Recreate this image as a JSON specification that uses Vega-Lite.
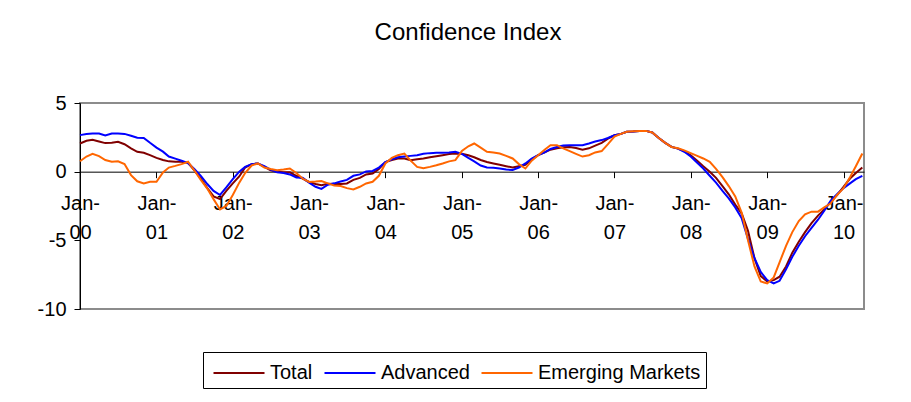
{
  "$schema": "https://vega.github.io/schema/vega-lite/v6.json",
  "width": 784,
  "height": 206,
  "autosize": {"type": "none"},
  "padding": {"left": 80, "top": 103, "right": 47, "bottom": 93},
  "background": "white",
  "title": {"text": "Confidence Index", "font": "Liberation Sans", "fontSize": 24, "fontWeight": "normal", "color": "black", "anchor": "middle", "baseline": "alphabetic", "offset": 29, "dx": -4},
  "data": {"values": [
    {"date": "2000-01-01", "Total": 2.05, "Advanced": 2.66, "Emerging Markets": 0.76},
    {"date": "2000-02-01", "Total": 2.25, "Advanced": 2.75, "Emerging Markets": 1.1},
    {"date": "2000-03-01", "Total": 2.32, "Advanced": 2.78, "Emerging Markets": 1.3},
    {"date": "2000-04-01", "Total": 2.2, "Advanced": 2.78, "Emerging Markets": 1.13},
    {"date": "2000-05-01", "Total": 2.08, "Advanced": 2.63, "Emerging Markets": 0.85},
    {"date": "2000-06-01", "Total": 2.1, "Advanced": 2.78, "Emerging Markets": 0.72},
    {"date": "2000-07-01", "Total": 2.18, "Advanced": 2.78, "Emerging Markets": 0.76},
    {"date": "2000-08-01", "Total": 2.0, "Advanced": 2.75, "Emerging Markets": 0.55},
    {"date": "2000-09-01", "Total": 1.7, "Advanced": 2.62, "Emerging Markets": -0.25},
    {"date": "2000-10-01", "Total": 1.45, "Advanced": 2.47, "Emerging Markets": -0.7},
    {"date": "2000-11-01", "Total": 1.38, "Advanced": 2.46, "Emerging Markets": -0.86},
    {"date": "2000-12-01", "Total": 1.2, "Advanced": 2.1, "Emerging Markets": -0.74},
    {"date": "2001-01-01", "Total": 1.0, "Advanced": 1.75, "Emerging Markets": -0.74},
    {"date": "2001-02-01", "Total": 0.85, "Advanced": 1.46, "Emerging Markets": -0.05},
    {"date": "2001-03-01", "Total": 0.75, "Advanced": 1.1, "Emerging Markets": 0.3},
    {"date": "2001-04-01", "Total": 0.72, "Advanced": 0.95, "Emerging Markets": 0.42},
    {"date": "2001-05-01", "Total": 0.72, "Advanced": 0.8, "Emerging Markets": 0.55},
    {"date": "2001-06-01", "Total": 0.64, "Advanced": 0.62, "Emerging Markets": 0.72},
    {"date": "2001-07-01", "Total": 0.1, "Advanced": 0.2, "Emerging Markets": 0.1},
    {"date": "2001-08-01", "Total": -0.5, "Advanced": -0.3, "Emerging Markets": -0.6},
    {"date": "2001-09-01", "Total": -1.2, "Advanced": -0.9, "Emerging Markets": -1.23},
    {"date": "2001-10-01", "Total": -1.8, "Advanced": -1.4, "Emerging Markets": -2.0},
    {"date": "2001-11-01", "Total": -2.0, "Advanced": -1.7, "Emerging Markets": -2.75},
    {"date": "2001-12-01", "Total": -1.4, "Advanced": -1.15, "Emerging Markets": -2.5},
    {"date": "2002-01-01", "Total": -0.85, "Advanced": -0.55, "Emerging Markets": -1.7},
    {"date": "2002-02-01", "Total": -0.35, "Advanced": 0.0, "Emerging Markets": -0.8},
    {"date": "2002-03-01", "Total": 0.3, "Advanced": 0.35, "Emerging Markets": -0.1},
    {"date": "2002-04-01", "Total": 0.55, "Advanced": 0.55, "Emerging Markets": 0.45},
    {"date": "2002-05-01", "Total": 0.6, "Advanced": 0.6, "Emerging Markets": 0.6},
    {"date": "2002-06-01", "Total": 0.35, "Advanced": 0.4, "Emerging Markets": 0.3},
    {"date": "2002-07-01", "Total": 0.1, "Advanced": 0.15, "Emerging Markets": 0.2},
    {"date": "2002-08-01", "Total": 0.0, "Advanced": -0.05, "Emerging Markets": 0.11},
    {"date": "2002-09-01", "Total": -0.05, "Advanced": -0.1, "Emerging Markets": 0.15},
    {"date": "2002-10-01", "Total": -0.05, "Advanced": -0.2, "Emerging Markets": 0.23},
    {"date": "2002-11-01", "Total": -0.3, "Advanced": -0.42, "Emerging Markets": -0.1},
    {"date": "2002-12-01", "Total": -0.5, "Advanced": -0.45, "Emerging Markets": -0.5},
    {"date": "2003-01-01", "Total": -0.75, "Advanced": -0.8, "Emerging Markets": -0.75},
    {"date": "2003-02-01", "Total": -0.9, "Advanced": -1.1, "Emerging Markets": -0.72},
    {"date": "2003-03-01", "Total": -0.98, "Advanced": -1.25, "Emerging Markets": -0.68},
    {"date": "2003-04-01", "Total": -0.88, "Advanced": -0.95, "Emerging Markets": -0.85},
    {"date": "2003-05-01", "Total": -0.9, "Advanced": -0.85, "Emerging Markets": -1.0},
    {"date": "2003-06-01", "Total": -0.9, "Advanced": -0.72, "Emerging Markets": -1.05},
    {"date": "2003-07-01", "Total": -0.86, "Advanced": -0.6, "Emerging Markets": -1.2},
    {"date": "2003-08-01", "Total": -0.6, "Advanced": -0.3, "Emerging Markets": -1.3},
    {"date": "2003-09-01", "Total": -0.45, "Advanced": -0.2, "Emerging Markets": -1.1},
    {"date": "2003-10-01", "Total": -0.2, "Advanced": 0.02, "Emerging Markets": -0.86},
    {"date": "2003-11-01", "Total": -0.13, "Advanced": 0.05, "Emerging Markets": -0.74},
    {"date": "2003-12-01", "Total": 0.2, "Advanced": 0.3, "Emerging Markets": -0.3},
    {"date": "2004-01-01", "Total": 0.7, "Advanced": 0.7, "Emerging Markets": 0.6},
    {"date": "2004-02-01", "Total": 0.85, "Advanced": 0.9, "Emerging Markets": 1.0},
    {"date": "2004-03-01", "Total": 0.96, "Advanced": 1.05, "Emerging Markets": 1.2},
    {"date": "2004-04-01", "Total": 0.95, "Advanced": 1.1, "Emerging Markets": 1.32},
    {"date": "2004-05-01", "Total": 0.84, "Advanced": 1.15, "Emerging Markets": 0.8},
    {"date": "2004-06-01", "Total": 0.9, "Advanced": 1.2, "Emerging Markets": 0.35},
    {"date": "2004-07-01", "Total": 0.96, "Advanced": 1.3, "Emerging Markets": 0.25},
    {"date": "2004-08-01", "Total": 1.05, "Advanced": 1.35, "Emerging Markets": 0.35},
    {"date": "2004-09-01", "Total": 1.13, "Advanced": 1.37, "Emerging Markets": 0.47},
    {"date": "2004-10-01", "Total": 1.2, "Advanced": 1.38, "Emerging Markets": 0.6},
    {"date": "2004-11-01", "Total": 1.28, "Advanced": 1.4, "Emerging Markets": 0.75},
    {"date": "2004-12-01", "Total": 1.32, "Advanced": 1.45, "Emerging Markets": 0.84},
    {"date": "2005-01-01", "Total": 1.3, "Advanced": 1.3, "Emerging Markets": 1.5},
    {"date": "2005-02-01", "Total": 1.2, "Advanced": 1.0, "Emerging Markets": 1.85},
    {"date": "2005-03-01", "Total": 1.05, "Advanced": 0.75, "Emerging Markets": 2.05},
    {"date": "2005-04-01", "Total": 0.85, "Advanced": 0.45, "Emerging Markets": 1.75},
    {"date": "2005-05-01", "Total": 0.7, "Advanced": 0.3, "Emerging Markets": 1.45},
    {"date": "2005-06-01", "Total": 0.6, "Advanced": 0.28, "Emerging Markets": 1.4},
    {"date": "2005-07-01", "Total": 0.5, "Advanced": 0.23, "Emerging Markets": 1.32},
    {"date": "2005-08-01", "Total": 0.4, "Advanced": 0.15, "Emerging Markets": 1.15},
    {"date": "2005-09-01", "Total": 0.3, "Advanced": 0.12, "Emerging Markets": 0.96},
    {"date": "2005-10-01", "Total": 0.4, "Advanced": 0.3, "Emerging Markets": 0.55},
    {"date": "2005-11-01", "Total": 0.5, "Advanced": 0.6, "Emerging Markets": 0.23},
    {"date": "2005-12-01", "Total": 0.9, "Advanced": 0.95, "Emerging Markets": 0.8},
    {"date": "2006-01-01", "Total": 1.2, "Advanced": 1.2, "Emerging Markets": 1.2},
    {"date": "2006-02-01", "Total": 1.4, "Advanced": 1.4, "Emerging Markets": 1.6},
    {"date": "2006-03-01", "Total": 1.6, "Advanced": 1.65, "Emerging Markets": 1.93},
    {"date": "2006-04-01", "Total": 1.7, "Advanced": 1.8, "Emerging Markets": 1.93},
    {"date": "2006-05-01", "Total": 1.78, "Advanced": 1.9, "Emerging Markets": 1.7},
    {"date": "2006-06-01", "Total": 1.8, "Advanced": 1.93, "Emerging Markets": 1.5},
    {"date": "2006-07-01", "Total": 1.72, "Advanced": 1.93, "Emerging Markets": 1.3},
    {"date": "2006-08-01", "Total": 1.6, "Advanced": 1.93, "Emerging Markets": 1.1},
    {"date": "2006-09-01", "Total": 1.7, "Advanced": 2.05, "Emerging Markets": 1.2},
    {"date": "2006-10-01", "Total": 1.9, "Advanced": 2.2, "Emerging Markets": 1.4},
    {"date": "2006-11-01", "Total": 2.1, "Advanced": 2.3, "Emerging Markets": 1.5},
    {"date": "2006-12-01", "Total": 2.4, "Advanced": 2.45, "Emerging Markets": 2.0},
    {"date": "2007-01-01", "Total": 2.65, "Advanced": 2.65, "Emerging Markets": 2.55},
    {"date": "2007-02-01", "Total": 2.75, "Advanced": 2.75, "Emerging Markets": 2.75},
    {"date": "2007-03-01", "Total": 2.9, "Advanced": 2.9, "Emerging Markets": 2.9},
    {"date": "2007-04-01", "Total": 2.93, "Advanced": 2.93, "Emerging Markets": 2.95},
    {"date": "2007-05-01", "Total": 2.97, "Advanced": 2.97, "Emerging Markets": 2.97},
    {"date": "2007-06-01", "Total": 2.97, "Advanced": 2.97, "Emerging Markets": 2.97},
    {"date": "2007-07-01", "Total": 2.85, "Advanced": 2.85, "Emerging Markets": 2.85},
    {"date": "2007-08-01", "Total": 2.45, "Advanced": 2.45, "Emerging Markets": 2.45},
    {"date": "2007-09-01", "Total": 2.1, "Advanced": 2.1, "Emerging Markets": 2.1},
    {"date": "2007-10-01", "Total": 1.8, "Advanced": 1.8, "Emerging Markets": 1.8},
    {"date": "2007-11-01", "Total": 1.68, "Advanced": 1.68, "Emerging Markets": 1.7},
    {"date": "2007-12-01", "Total": 1.5, "Advanced": 1.45, "Emerging Markets": 1.55},
    {"date": "2008-01-01", "Total": 1.2, "Advanced": 1.1, "Emerging Markets": 1.35},
    {"date": "2008-02-01", "Total": 0.8, "Advanced": 0.65, "Emerging Markets": 1.15},
    {"date": "2008-03-01", "Total": 0.4, "Advanced": 0.23, "Emerging Markets": 0.96},
    {"date": "2008-04-01", "Total": 0.0, "Advanced": -0.3, "Emerging Markets": 0.72},
    {"date": "2008-05-01", "Total": -0.45, "Advanced": -0.8, "Emerging Markets": 0.2},
    {"date": "2008-06-01", "Total": -1.05, "Advanced": -1.4, "Emerging Markets": -0.4},
    {"date": "2008-07-01", "Total": -1.65, "Advanced": -1.95, "Emerging Markets": -1.05},
    {"date": "2008-08-01", "Total": -2.4, "Advanced": -2.6, "Emerging Markets": -1.8},
    {"date": "2008-09-01", "Total": -3.05, "Advanced": -3.4, "Emerging Markets": -3.0},
    {"date": "2008-10-01", "Total": -4.3, "Advanced": -4.9, "Emerging Markets": -5.0},
    {"date": "2008-11-01", "Total": -6.3, "Advanced": -6.3, "Emerging Markets": -6.9},
    {"date": "2008-12-01", "Total": -7.6, "Advanced": -7.3, "Emerging Markets": -8.0},
    {"date": "2009-01-01", "Total": -8.0, "Advanced": -7.9, "Emerging Markets": -8.14},
    {"date": "2009-02-01", "Total": -7.9, "Advanced": -8.14, "Emerging Markets": -7.7},
    {"date": "2009-03-01", "Total": -7.65, "Advanced": -7.95, "Emerging Markets": -6.6},
    {"date": "2009-04-01", "Total": -6.9, "Advanced": -7.1, "Emerging Markets": -5.4},
    {"date": "2009-05-01", "Total": -5.9, "Advanced": -6.2, "Emerging Markets": -4.4},
    {"date": "2009-06-01", "Total": -5.1, "Advanced": -5.4, "Emerging Markets": -3.6},
    {"date": "2009-07-01", "Total": -4.4, "Advanced": -4.7, "Emerging Markets": -3.1},
    {"date": "2009-08-01", "Total": -3.75, "Advanced": -4.1, "Emerging Markets": -2.91},
    {"date": "2009-09-01", "Total": -3.2, "Advanced": -3.5, "Emerging Markets": -2.91},
    {"date": "2009-10-01", "Total": -2.75, "Advanced": -2.85, "Emerging Markets": -2.6},
    {"date": "2009-11-01", "Total": -2.2, "Advanced": -2.1, "Emerging Markets": -2.3},
    {"date": "2009-12-01", "Total": -1.7, "Advanced": -1.65, "Emerging Markets": -1.7},
    {"date": "2010-01-01", "Total": -1.1, "Advanced": -1.2, "Emerging Markets": -1.2},
    {"date": "2010-02-01", "Total": -0.5, "Advanced": -0.85, "Emerging Markets": -0.4},
    {"date": "2010-03-01", "Total": -0.1, "Advanced": -0.55, "Emerging Markets": 0.4},
    {"date": "2010-04-01", "Total": 0.3, "Advanced": -0.3, "Emerging Markets": 1.32}
  ]},
  "transform": [{"fold": ["Total", "Advanced", "Emerging Markets"], "as": ["series", "value"]}],
  "mark": {"type": "line", "strokeWidth": 2, "clip": false},
  "encoding": {
    "x": {
      "field": "date", "type": "temporal",
      "scale": {"type": "utc", "domain": [{"year": 2000, "month": 1, "date": 1, "utc": true}, {"year": 2010, "month": 4, "date": 9, "utc": true}]},
      "axis": {
        "title": null,
        "offset": -137.33,
        "values": [
          {"year": 2000, "month": 1, "date": 1, "utc": true},
          {"year": 2001, "month": 1, "date": 1, "utc": true},
          {"year": 2002, "month": 1, "date": 1, "utc": true},
          {"year": 2003, "month": 1, "date": 1, "utc": true},
          {"year": 2004, "month": 1, "date": 1, "utc": true},
          {"year": 2005, "month": 1, "date": 1, "utc": true},
          {"year": 2006, "month": 1, "date": 1, "utc": true},
          {"year": 2007, "month": 1, "date": 1, "utc": true},
          {"year": 2008, "month": 1, "date": 1, "utc": true},
          {"year": 2009, "month": 1, "date": 1, "utc": true},
          {"year": 2010, "month": 1, "date": 1, "utc": true}
        ],
        "labelExpr": "['Jan-', utcFormat(datum.value, '%y')]",
        "labelFont": "Liberation Sans",
        "labelFontSize": 20,
        "labelColor": "black",
        "labelLineHeight": 29,
        "labelPadding": 16,
        "labelOverlap": false,
        "labelFlush": false,
        "labelAlign": "center",
        "labelBound": false,
        "domainColor": "black",
        "domainWidth": 1,
        "tickColor": "black",
        "tickSize": 6,
        "tickWidth": 1,
        "grid": false
      }
    },
    "y": {
      "field": "value", "type": "quantitative",
      "scale": {"domain": [-10, 5], "nice": false, "zero": false},
      "axis": {
        "title": null,
        "values": [5, 0, -5, -10],
        "labelExpr": "replace(datum.label, '\u2212', '-')",
        "labelFont": "Liberation Sans",
        "labelFontSize": 20,
        "labelColor": "black",
        "labelPadding": 8,
        "domainColor": "black",
        "domainWidth": 1,
        "tickColor": "black",
        "tickSize": 6,
        "tickWidth": 1,
        "grid": false
      }
    },
    "color": {
      "field": "series", "type": "nominal",
      "scale": {"domain": ["Total", "Advanced", "Emerging Markets"], "range": ["#800000", "#0000FF", "#FF6600"]},
      "legend": {
        "title": null,
        "orient": "none",
        "direction": "horizontal",
        "legendX": 123,
        "legendY": 249,
        "padding": 5,
        "strokeColor": "black",
        "fillColor": "white",
        "symbolType": "M-0.7,0H2.7",
        "symbolSize": 900,
        "symbolStrokeWidth": 2,
        "symbolFillColor": "transparent",
        "labelFont": "Liberation Sans",
        "labelFontSize": 20,
        "labelColor": "black",
        "labelOffset": 30,
        "labelLimit": 300,
        "columnPadding": 6
      }
    }
  },
  "config": {
    "view": {"stroke": "#8c8c8c", "strokeWidth": 2},
    "axis": {"labelFont": "Liberation Sans"}
  }
}
